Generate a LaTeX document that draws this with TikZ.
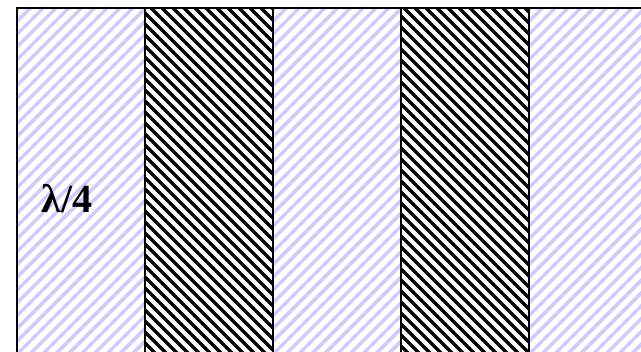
\documentclass[tikz,border=0pt]{standalone}
\usepackage{fontspec}
\setmainfont{Liberation Serif}
\newfontfamily\labfont{Liberation Serif}
\definecolor{lav}{HTML}{CCCCFF}
\tikzset{
  bluehatch/.style={draw=lav, line width=3.4pt},
  blackhatch/.style={draw=black, line width=3.4pt},
  divider/.style={draw=black, line width=2pt},
  frame/.style={draw=black, line width=2.6pt},
  label/.style={font=\labfont\fontsize{40}{40}\selectfont\bfseries, inner sep=0pt}
}
\begin{document}
\begin{tikzpicture}[x=1pt,y=-1pt]
\useasboundingbox (0,0) rectangle (641,352);
\fill[white] (0,0) rectangle (641,352);
% blue hatched strips
\begin{scope}
  \clip (17,8) rectangle (145,360) (273,8) rectangle (401,360) (529,8) rectangle (657,360);
  \foreach \i in {0,...,85} {
    \draw[bluehatch] (12.8*\i,0) -- (12.8*\i-380,380);
  }
\end{scope}
% black hatched strips
\begin{scope}
  \clip (145,8) rectangle (273,360) (401,8) rectangle (529,360);
  \foreach \i in {-40,...,60} {
    \draw[blackhatch] (11*\i,0) -- (11*\i+380,380);
  }
\end{scope}
% frame and dividers
\coordinate (tl) at (17,8);
\coordinate (bl) at (17,360);
\coordinate (tr) at (660,8);
\draw[frame] (bl) -- (tl) -- (tr);
\foreach \x/\n in {145/a,273/b,401/c,529/d} {
  \coordinate (t\n) at (\x,8);
  \coordinate (b\n) at (\x,360);
  \draw[divider] (t\n) -- (b\n);
}
\node[label] (lam) at (67,199) {λ/4};
\end{tikzpicture}
\end{document}
